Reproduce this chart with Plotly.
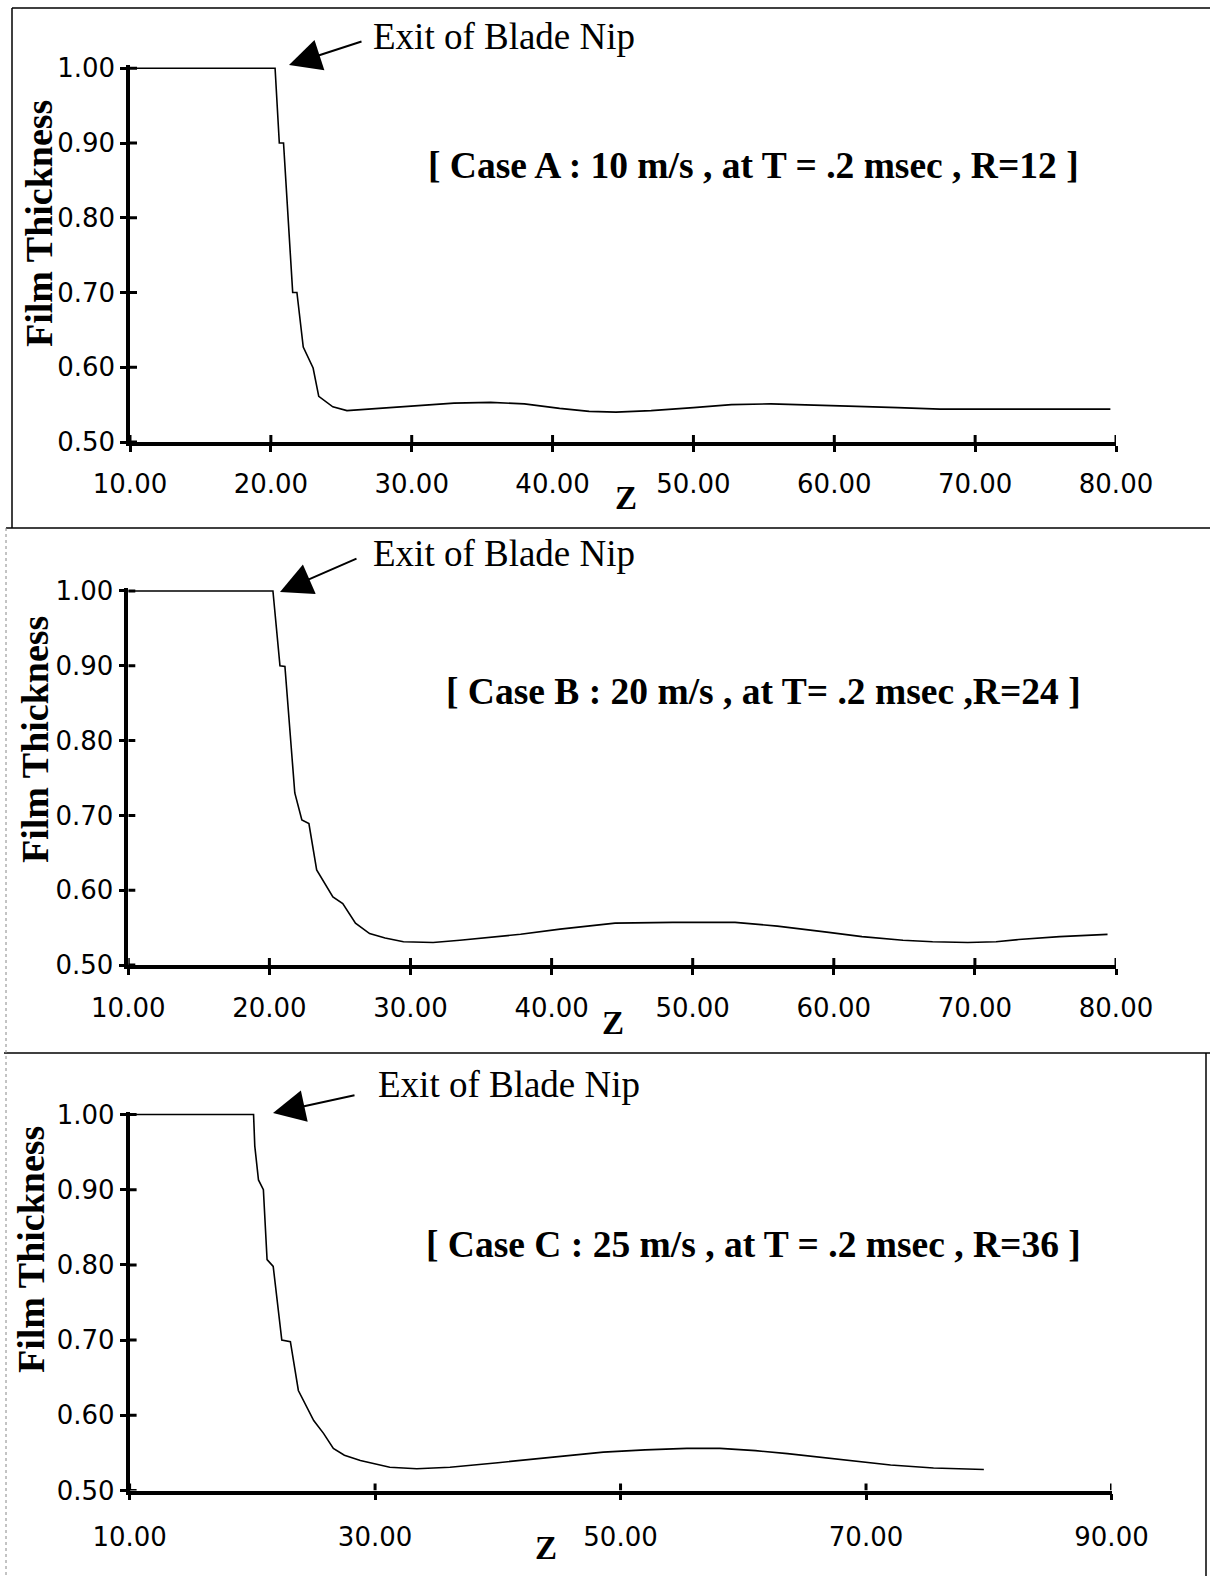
import plotly.graph_objects as go

# ---- Film thickness profiles along Z ----
# Case A : 10 m/s, R=12
z_a = [10.0, 20.3, 20.6, 20.9, 21.55, 21.85, 22.3, 23.0, 23.4, 24.4, 25.4, 27.0,
       29.0, 31.0, 33.0, 35.6, 38.0, 40.5, 42.6, 44.5, 47.0, 50.0, 52.7, 55.5,
       58.2, 61.0, 64.5, 67.5, 72.0, 76.0, 79.6]
h_a = [1.000, 1.000, 0.900, 0.900, 0.700, 0.700, 0.627, 0.599, 0.561, 0.547, 0.542, 0.544,
       0.547, 0.550, 0.552, 0.553, 0.551, 0.545, 0.541, 0.540, 0.542, 0.546, 0.550, 0.551,
       0.550, 0.548, 0.546, 0.544, 0.544, 0.544, 0.544]

# Case B : 20 m/s, R=24
z_b = [10.0, 20.25, 20.75, 21.1, 21.8, 22.3, 22.8, 23.35, 24.5, 25.2, 26.1, 27.1,
       28.2, 29.5, 31.6, 33.5, 37.8, 40.6, 44.5, 48.6, 53.0, 56.0, 59.5, 62.0,
       64.9, 67.0, 69.5, 71.5, 73.1, 76.0, 79.4]
h_b = [1.000, 1.000, 0.900, 0.899, 0.730, 0.694, 0.689, 0.627, 0.591, 0.582, 0.556, 0.542,
       0.536, 0.531, 0.530, 0.533, 0.541, 0.548, 0.556, 0.557, 0.557, 0.552, 0.544, 0.538,
       0.533, 0.531, 0.530, 0.531, 0.534, 0.538, 0.541]

# Case C : 25 m/s, R=36
z_c = [10.0, 20.1, 20.2, 20.5, 20.9, 21.2, 21.7, 22.4, 23.1, 23.75, 25.0, 25.8,
       26.6, 27.5, 28.8, 31.2, 33.4, 36.1, 40.0, 44.3, 48.6, 52.0, 55.4, 58.1,
       61.0, 63.6, 66.5, 69.0, 72.0, 75.5, 79.6]
h_c = [1.000, 1.000, 0.958, 0.913, 0.900, 0.807, 0.798, 0.700, 0.698, 0.633, 0.593, 0.576,
       0.556, 0.547, 0.540, 0.531, 0.529, 0.531, 0.537, 0.544, 0.551, 0.554, 0.556, 0.556,
       0.553, 0.549, 0.544, 0.539, 0.534, 0.530, 0.528]

# Tick values
x_ticks_ab = [10, 20, 30, 40, 50, 60, 70, 80]
x_ticks_c = [10, 30, 50, 70, 90]
y_ticks = [0.5, 0.6, 0.7, 0.8, 0.9, 1.0]

case_titles = [
    "[ Case A : 10 m/s , at T = .2 msec , R=12 ]",
    "[ Case B : 20 m/s , at T= .2 msec ,R=24 ]",
    "[ Case C : 25 m/s , at T = .2 msec , R=36 ]",
]
nip_label = "Exit of Blade Nip"
y_title = "Film Thickness"
x_title = "Z"

W, H = 1210, 1576
SERIF = "Liberation Serif, Times New Roman, serif"
SANS = "DejaVu Sans, Arial, sans-serif"
TICK_LEN = 6


def px(x):
    return x / W


def py(y):
    return 1 - y / H


panels = [
    dict(z=z_a, h=h_a, xt=x_ticks_ab, xr=[10, 80], xd=[130, 1116], yd=[65.3, 442],
         standoff=10, title=case_titles[0], title_xy=(754, 166),
         nip_xy=(371, 36), tip=(289, 65), tail=(74, -24),
         zlab=(626, 498), ytl=(39, 224)),
    dict(z=z_b, h=h_b, xt=x_ticks_ab, xr=[10, 80], xd=[128.3, 1116], yd=[588, 965],
         standoff=11, title=case_titles[1], title_xy=(763, 691),
         nip_xy=(371, 553), tip=(280, 592), tail=(78, -34),
         zlab=(613, 1023), ytl=(35, 740)),
    dict(z=z_c, h=h_c, xt=x_ticks_c, xr=[10, 90], xd=[129.6, 1111.5], yd=[1111.5, 1490.5],
         standoff=15, title=case_titles[2], title_xy=(754, 1244),
         nip_xy=(376, 1084), tip=(273, 1113), tail=(83, -18),
         zlab=(546, 1548), ytl=(31, 1250)),
]

fig = go.Figure()
layout = dict(width=W, height=H, margin=dict(l=0, r=0, t=0, b=0, autoexpand=False),
              paper_bgcolor="white", plot_bgcolor="white", showlegend=False)
annotations = []
shapes = []

for i, p in enumerate(panels, start=1):
    sx = "" if i == 1 else str(i)
    xa, ya = "x" + sx, "y" + sx
    fig.add_trace(go.Scatter(x=p["z"], y=p["h"], xaxis=xa, yaxis=ya, mode="lines",
                             line=dict(color="black", width=1.6), hoverinfo="skip"))
    layout["xaxis" + sx] = dict(
        domain=[px(p["xd"][0]), px(p["xd"][1])], range=p["xr"], anchor=ya,
        tickvals=p["xt"], tickformat=".2f", ticks="outside", ticklen=TICK_LEN,
        tickwidth=3, tickcolor="black", showgrid=False, zeroline=False,
        showline=True, linewidth=3.5, linecolor="black", automargin=False,
        tickfont=dict(family=SANS, size=26, color="black"),
        ticklabelstandoff=p["standoff"])
    layout["yaxis" + sx] = dict(
        domain=[py(p["yd"][1]), py(p["yd"][0])], range=[0.5, 1.004], anchor=xa,
        tickvals=y_ticks, tickformat=".2f", ticks="outside", ticklen=TICK_LEN,
        tickwidth=3, tickcolor="black", showgrid=False, zeroline=False,
        showline=True, linewidth=3.5, linecolor="black", automargin=False,
        tickfont=dict(family=SANS, size=26, color="black"),
        ticklabelstandoff=0)

    # inner half of the crossing tick marks
    for t in p["xt"]:
        shapes.append(dict(type="line", xref=xa, yref=ya, x0=t, x1=t,
                           ysizemode="pixel", yanchor=0.5, y0=0, y1=TICK_LEN + 1,
                           line=dict(color="black", width=3)))
    for t in y_ticks:
        shapes.append(dict(type="line", xref=xa, yref=ya, y0=t, y1=t,
                           xsizemode="pixel", xanchor=p["xr"][0], x0=0, x1=TICK_LEN + 1,
                           line=dict(color="black", width=3)))

    # case caption
    annotations.append(dict(text="<b>" + p["title"] + "</b>", xref="paper", yref="paper",
                            x=px(p["title_xy"][0]), y=py(p["title_xy"][1]),
                            xanchor="center", yanchor="middle", showarrow=False,
                            font=dict(family=SERIF, size=37.5, color="black")))
    # nip label and arrow
    annotations.append(dict(text=nip_label, xref="paper", yref="paper",
                            x=px(p["nip_xy"][0]), y=py(p["nip_xy"][1]),
                            xanchor="left", yanchor="middle", showarrow=False,
                            font=dict(family=SERIF, size=37, color="black")))
    annotations.append(dict(text="", xref="paper", yref="paper",
                            x=px(p["tip"][0]), y=py(p["tip"][1]),
                            ax=p["tail"][0], ay=p["tail"][1],
                            showarrow=True, arrowhead=2, arrowsize=3.2, arrowwidth=2,
                            arrowcolor="black"))
    # axis titles
    annotations.append(dict(text="<b>" + x_title + "</b>", xref="paper", yref="paper",
                            x=px(p["zlab"][0]), y=py(p["zlab"][1]),
                            xanchor="center", yanchor="middle", showarrow=False,
                            font=dict(family=SERIF, size=33, color="black")))
    annotations.append(dict(text="<b>" + y_title + "</b>", xref="paper", yref="paper",
                            x=px(p["ytl"][0]), y=py(p["ytl"][1]), textangle=-90,
                            xanchor="center", yanchor="middle", showarrow=False,
                            font=dict(family=SERIF, size=38, color="black")))

# panel frames
frame = dict(color="black", width=1.5)
shapes += [
    dict(type="line", xref="paper", yref="paper", x0=px(12), x1=1, y0=py(8), y1=py(8), line=frame),
    dict(type="line", xref="paper", yref="paper", x0=px(12), x1=px(12), y0=py(8), y1=py(528), line=frame),
    dict(type="line", xref="paper", yref="paper", x0=px(6), x1=1, y0=py(528), y1=py(528), line=frame),
    dict(type="line", xref="paper", yref="paper", x0=px(4), x1=1, y0=py(1053), y1=py(1053), line=frame),
    dict(type="line", xref="paper", yref="paper", x0=px(1206), x1=px(1206), y0=py(1053), y1=0, line=frame),
    dict(type="line", xref="paper", yref="paper", x0=px(6), x1=px(6), y0=py(528), y1=0,
         line=dict(color="#888888", width=1, dash="dot")),
]

layout["annotations"] = annotations
layout["shapes"] = shapes
fig.update_layout(**layout)
fig.write_html("out.html")
